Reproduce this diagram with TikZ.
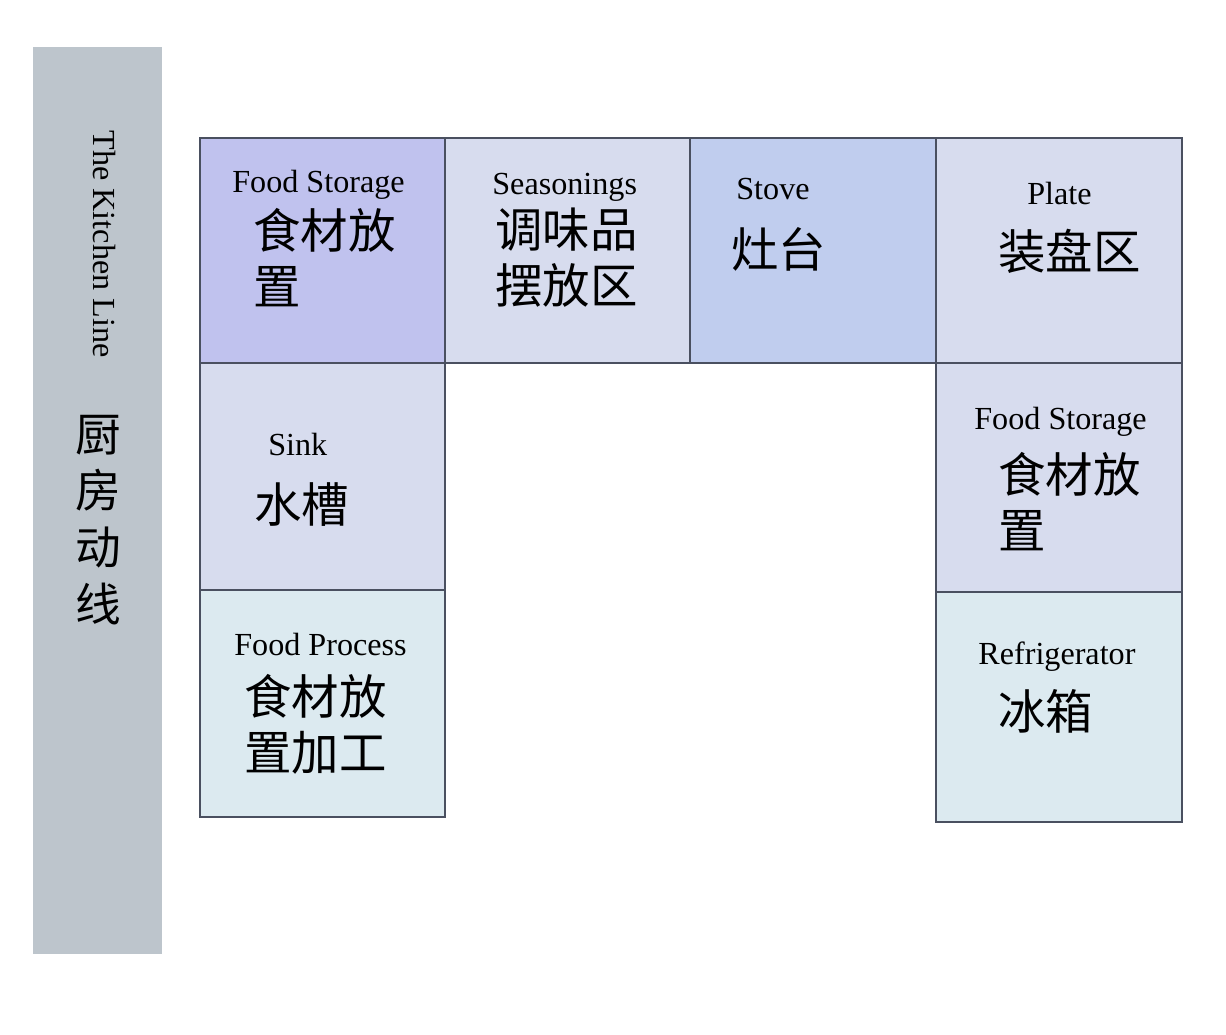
\documentclass[tikz,border=0pt]{standalone}
\usepackage{fontspec}
\setmainfont{Liberation Serif}
\newfontfamily\cjk{Noto Sans CJK SC}
\usetikzlibrary{positioning}
\definecolor{barGray}{HTML}{BDC5CC}
\definecolor{storeBlue}{HTML}{C0C2EE}
\definecolor{paleBlue}{HTML}{D7DCEE}
\definecolor{stoveBlue}{HTML}{C0CDEE}
\definecolor{iceBlue}{HTML}{DCEAF0}
\definecolor{edgeGray}{HTML}{4A5060}
\tikzset {
    zone/.style={draw=edgeGray, line width=1.3pt, outer sep=0pt,
        minimum width=4.9cm, minimum height=4.5cm},
    en/.style={anchor=west, inner sep=0pt, text height=0.7em, text depth=0.2em,
        font=\fontsize{18.3}{22}\selectfont},
    zh/.style={anchor=west, inner sep=0pt, align=left,
        font=\fontsize{27}{32}\selectfont\cjk},
    node distance=0pt
}
\begin{document}
\begin{tikzpicture}[x=0.02cm, y=-0.02cm]

        \useasboundingbox (0,0) rectangle (1226,1034);

        \node[fill=barGray, minimum width=2.58cm, minimum height=18.14cm]
            (bar) at (97.5,500.5) {};
        \node[en, anchor=center, rotate=-90] (barEn) at (98,244) {The Kitchen Line};
        \node[align=center, inner sep=0pt, font=\fontsize{26}{32.3}\selectfont\cjk]
            (barZh) at (98,520) {厨\\房\\动\\线};

        \node[zone, fill=storeBlue] (store) at (322.5,250.5) {};
        \node[zone, fill=paleBlue, right=of store] (season) {};
        \node[zone, fill=stoveBlue, minimum width=4.92cm, right=of season] (stove) {};
        \node[zone, fill=paleBlue, minimum width=4.92cm, right=of stove] (plate) {};
        \node[zone, fill=paleBlue, minimum height=4.54cm, below=of store] (sink) {};
        \node[zone, fill=iceBlue, minimum height=4.54cm, below=of sink] (process) {};
        \node[zone, fill=paleBlue, minimum width=4.92cm, minimum height=4.58cm,
            below=of plate] (rstore) {};
        \node[zone, fill=iceBlue, minimum width=4.92cm, minimum height=4.6cm,
            below=of rstore] (fridge) {};

        \node[en] (storeEn) at (232,188) {Food Storage};
        \node[zh] (storeZh) at (253,257.5) {食材放\\置};
        \node[en] (seasonEn) at (492,190) {Seasonings};
        \node[zh] (seasonZh) at (495,257.5) {调味品\\摆放区};
        \node[en] (stoveEn) at (736,195) {Stove};
        \node[zh] (stoveZh) at (731,249) {灶台};
        \node[en] (plateEn) at (1027,200) {Plate};
        \node[zh] (plateZh) at (998,251) {装盘区};
        \node[en] (sinkEn) at (268,451) {Sink};
        \node[zh] (sinkZh) at (254,505) {水槽};
        \node[en] (rstoreEn) at (974,425) {Food Storage};
        \node[zh] (rstoreZh) at (998,501.5) {食材放\\置};
        \node[en] (processEn) at (234,651) {Food Process};
        \node[zh] (processZh) at (244,724.5) {食材放\\置加工};
        \node[en] (fridgeEn) at (978,660) {Refrigerator};
        \node[zh] (fridgeZh) at (998,711) {冰箱};

    \end{tikzpicture}
\end{document}
